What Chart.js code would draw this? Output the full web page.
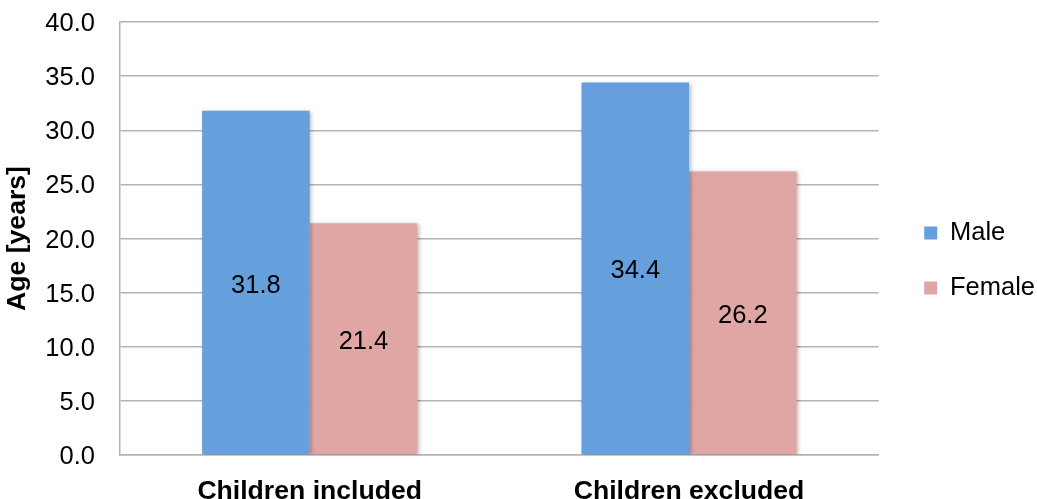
<!DOCTYPE html>
<html>
<head>
<meta charset="utf-8">
<script src="https://cdn.jsdelivr.net/npm/chart.js@4/dist/chart.umd.min.js"></script>
<style>
  html, body { margin: 0; padding: 0; background: #ffffff; }
  #wrap { width: 1037px; height: 499px; }
</style>
</head>
<body>
<div id="wrap"><canvas id="c" width="1037" height="499"></canvas></div>
<script>
// Mean age by sex, with and without children
const categories = ['Children included', 'Children excluded'];
const maleAges = [31.8, 34.4];
const femaleAges = [21.4, 26.2];
const seriesNames = ['Male', 'Female'];
const yTicks = [0, 5, 10, 15, 20, 25, 30, 35, 40];

const FONT = '"Liberation Sans", Arial, Helvetica, sans-serif';
const GRID = '#b3b3b3';

// soft drop shadow under the bars
const barShadow = {
  id: 'barShadow',
  beforeDatasetsDraw(chart) {
    const ctx = chart.ctx;
    ctx.save();
    ctx.shadowColor = 'rgba(0,0,0,0.28)';
    ctx.shadowBlur = 4;
    ctx.shadowOffsetX = 1.5;
    ctx.shadowOffsetY = 1;
  },
  afterDatasetsDraw(chart) {
    chart.ctx.restore();
  }
};

// value printed in the middle of each bar
const barValues = {
  id: 'barValues',
  afterDatasetsDraw(chart) {
    const ctx = chart.ctx;
    ctx.save();
    ctx.font = '25.5px ' + FONT;
    ctx.fillStyle = '#000000';
    ctx.textAlign = 'center';
    ctx.textBaseline = 'middle';
    chart.data.datasets.forEach((ds, di) => {
      const meta = chart.getDatasetMeta(di);
      meta.data.forEach((bar, i) => {
        const v = ds.data[i];
        ctx.fillText(v.toFixed(1), bar.x, (bar.y + bar.base) / 2 + 3);
      });
    });
    ctx.restore();
  }
};

// keep the plot edges where the layout padding puts them
function noOverhang(s) {
  s.paddingTop = 0;
  s.paddingBottom = 0;
  s.paddingLeft = 0;
  s.paddingRight = 0;
}

new Chart(document.getElementById('c'), {
  type: 'bar',
  data: {
    labels: categories,
    datasets: [
      { label: seriesNames[0], data: maleAges, backgroundColor: '#659fdc', borderWidth: 0 },
      { label: seriesNames[1], data: femaleAges, backgroundColor: '#e0a6a4', borderWidth: 0 }
    ]
  },
  options: {
    responsive: false,
    animation: false,
    devicePixelRatio: 1,
    layout: { padding: { top: 22, right: -8, bottom: 0, left: 0 } },
    datasets: { bar: { categoryPercentage: 0.567, barPercentage: 1.0 } },
    plugins: {
      tooltip: { enabled: false },
      legend: {
        position: 'right',
        align: 'center',
        fullSize: true,
        labels: {
          boxWidth: 13,
          boxHeight: 13,
          padding: 29.5,
          color: '#000000',
          font: { family: FONT, size: 25.5 }
        }
      }
    },
    scales: {
      x: {
        grid: { display: false, drawTicks: false },
        border: { display: true, color: GRID, width: 1.5 },
        ticks: {
          color: '#000000',
          padding: 21,
          font: { family: FONT, size: 26.6, weight: 'bold' }
        },
        afterFit(s) { s.height = 44; noOverhang(s); }
      },
      y: {
        min: 0,
        max: 40,
        afterBuildTicks(s) { s.ticks = yTicks.map(v => ({ value: v })); },
        grid: { color: GRID, lineWidth: 1.5, drawTicks: false },
        border: { display: true, color: GRID, width: 1.5 },
        ticks: {
          color: '#000000',
          padding: 25,
          labelOffset: 2,
          font: { family: FONT, size: 25.5 },
          callback: v => Number(v).toFixed(1)
        },
        title: {
          display: true,
          text: 'Age [years]',
          color: '#000000',
          padding: { top: 2, bottom: 0 },
          font: { family: FONT, size: 26.6, weight: 'bold' }
        },
        afterFit(s) { s.width = 120; noOverhang(s); }
      },
      spacer: {
        type: 'linear',
        position: 'right',
        display: true,
        grid: { display: false, drawTicks: false },
        border: { display: false },
        ticks: { display: false },
        afterFit(s) { s.width = 16; noOverhang(s); }
      }
    }
  },
  plugins: [barShadow, barValues]
});
</script>
</body>
</html>
